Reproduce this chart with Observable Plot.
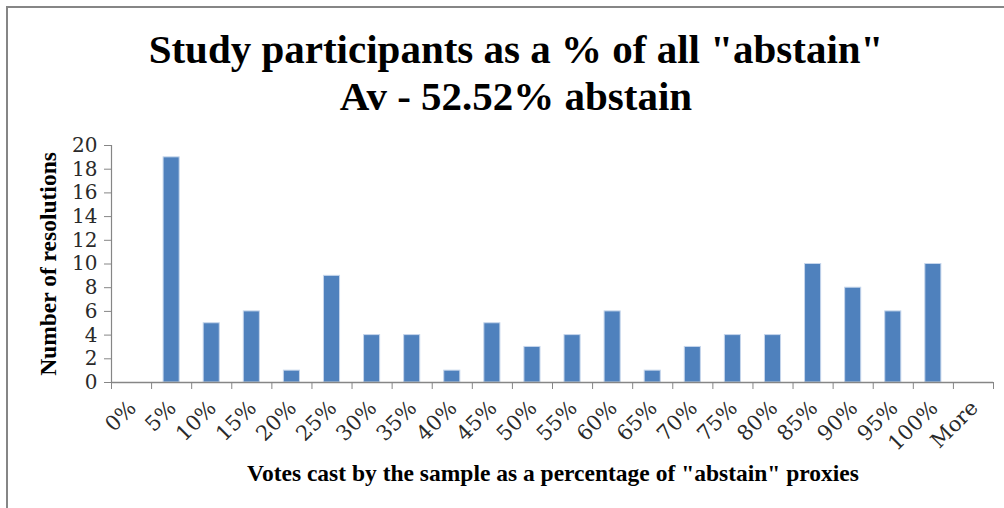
<!DOCTYPE html>
<html><head><meta charset="utf-8">
<script src="https://cdn.jsdelivr.net/npm/d3@7"></script>
<script src="https://cdn.jsdelivr.net/npm/@observablehq/plot@0.6"></script>
<style>
html,body{margin:0;padding:0;background:#fff;}
#wrap{position:relative;width:1004px;height:508px;overflow:hidden;font-family:"Liberation Serif",serif;}
#frame{position:absolute;left:6px;top:6px;width:1100px;height:600px;border-left:2.5px solid #868686;border-top:2.5px solid #868686;}
.title{position:absolute;left:14px;width:1004px;text-align:center;font-weight:bold;font-size:41px;line-height:41px;color:#000;white-space:nowrap;}
#ylab{position:absolute;left:49px;top:263.5px;transform:translate(-50%,-50%) rotate(-90deg);font-weight:bold;font-size:23.5px;line-height:23.5px;white-space:nowrap;color:#000;}
#xlab{position:absolute;left:553px;top:462px;transform:translateX(-50%);font-weight:bold;font-size:23.5px;line-height:23.5px;white-space:nowrap;color:#000;}
#chart{position:absolute;left:0;top:0;}
</style></head>
<body><div id="wrap">
<div id="frame"></div>
<div id="chart"></div>
<div class="title" style="top:28.7px">Study participants as a % of all "abstain"</div>
<div class="title" style="top:75.7px">Av - 52.52% abstain</div>
<div id="ylab">Number of resolutions</div>
<div id="xlab">Votes cast by the sample as a percentage of "abstain" proxies</div>
</div>
<script>
const categories = ["0%","5%","10%","15%","20%","25%","30%","35%","40%","45%","50%","55%","60%","65%","70%","75%","80%","85%","90%","95%","100%","More"];
const counts = [0,19,5,6,1,9,4,4,1,5,3,4,6,1,3,4,4,10,8,6,10,0];
const yTicks = [0,2,4,6,8,10,12,14,16,18,20];
const n = categories.length;
const data = categories.map((c,i)=>({cat:c, idx:i, value:counts[i]}));
const chart = Plot.plot({
  width:1004, height:508,
  marginLeft:111, marginRight:11, marginTop:145, marginBottom:126,
  x:{type:"linear", domain:[0,n], axis:null},
  y:{domain:[0,20], axis:null},
  style:{fontFamily:"'DejaVu Serif', serif", fontSize:"20px", background:"transparent", color:"#222"},
  marks:[
    Plot.rectY(data.filter(d=>d.value>0),{x1:"idx", x2:d=>d.idx+1, y:"value", insetLeft:12, insetRight:12, fill:"#4F81BD", stroke:"#c6d6ec", strokeWidth:1}),
    Plot.ruleX([0],{stroke:"#868686", strokeWidth:1.2}),
    Plot.ruleY([0],{stroke:"#868686", strokeWidth:1.5}),
    Plot.axisY({ticks:yTicks, tickSize:7, stroke:"#868686", fill:"#2a2a2a", fontSize:20, tickPadding:7, label:null}),
    Plot.axisX({ticks:d3.range(n+1), tickSize:7, tickFormat:()=>"", stroke:"#868686", label:null}),
    Plot.axisX({ticks:categories.map((c,i)=>i+0.5), tickFormat:d=>categories[Math.floor(d)], tickSize:0, tickRotate:-45, fontSize:21, tickPadding:22, dx:1, fill:"#2a2a2a", label:null})
  ]
});
document.getElementById("chart").appendChild(chart);
</script>
</body></html>
